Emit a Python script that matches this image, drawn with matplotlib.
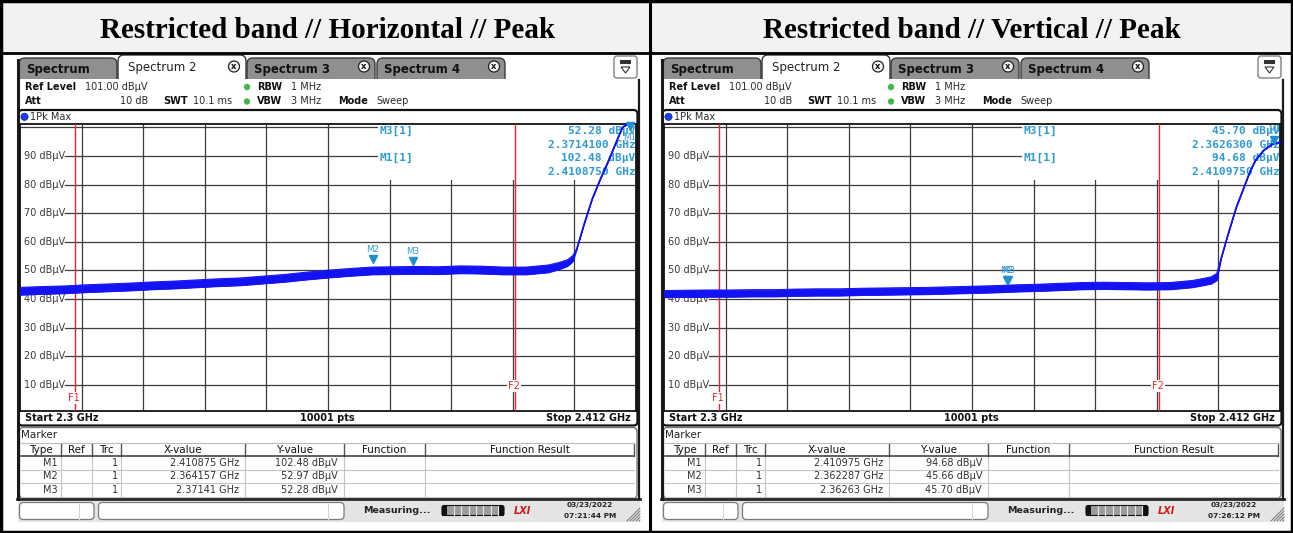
import matplotlib
matplotlib.use("Agg")
import matplotlib.pyplot as plt
from matplotlib.patches import Rectangle, FancyBboxPatch, Circle, Polygon
import numpy as np

plt.rcParams['font.family'] = ['DejaVu Sans']

# ---------------- data ----------------
titles = ["Restricted band // Horizontal // Peak", "Restricted band // Vertical // Peak"]
f_start = 2.300
f_stop = 2.412
ref_level = 101.0
bottom_level = 1.0
grid_levels = [100, 90, 80, 70, 60, 50, 40, 30, 20, 10]
level_labels = ["90 dBµV", "80 dBµV", "70 dBµV", "60 dBµV", "50 dBµV",
                "40 dBµV", "30 dBµV", "20 dBµV", "10 dBµV"]
label_levels = [90, 80, 70, 60, 50, 40, 30, 20, 10]
limit_freqs = [2.310, 2.390]
limit_names = ["F1", "F2"]
limit_label_levels = [5.6, 9.6]

# Horizontal trace (envelope of the max-hold noise band, dBµV)
h_freq = [2.300, 2.304, 2.308, 2.312, 2.316, 2.320, 2.324, 2.328, 2.332, 2.336,
          2.340, 2.344, 2.348, 2.352, 2.356, 2.360, 2.364, 2.368, 2.372, 2.376,
          2.380, 2.384, 2.388, 2.392, 2.396, 2.398, 2.3995, 2.4005,
          2.4012, 2.4025, 2.4040, 2.4055, 2.4070, 2.4085, 2.4095, 2.4105, 2.4120]
h_lo = [41.5, 41.8, 42.0, 42.4, 42.7, 43.0, 43.4, 43.7, 44.1, 44.5,
        44.8, 45.4, 46.0, 46.8, 47.5, 48.1, 48.6, 48.7, 48.8, 48.7,
        49.0, 48.9, 48.6, 48.6, 49.3, 50.4, 51.5, 53.2,
        57.4, 65.9, 74.9, 81.9, 88.4, 95.4, 99.9, 101.2, 101.9]
h_hi = [44.1, 44.4, 44.6, 45.0, 45.3, 45.6, 46.0, 46.3, 46.7, 47.1,
        47.4, 48.0, 48.6, 49.4, 50.1, 50.7, 51.2, 51.3, 51.4, 51.3,
        51.6, 51.5, 51.2, 51.2, 51.9, 52.8, 53.7, 55.2,
        57.6, 66.1, 75.1, 82.1, 88.6, 95.6, 100.1, 101.4, 102.1]

# Vertical trace
v_freq = [2.300, 2.304, 2.308, 2.312, 2.316, 2.320, 2.324, 2.328, 2.332, 2.336,
          2.340, 2.344, 2.348, 2.352, 2.356, 2.360, 2.364, 2.368, 2.372, 2.376,
          2.380, 2.384, 2.388, 2.392, 2.396, 2.398, 2.3995, 2.4005,
          2.4013, 2.4025, 2.4040, 2.4055, 2.4065, 2.4075, 2.4090, 2.4105, 2.4120]
v_lo = [40.6, 40.7, 40.8, 40.8, 40.9, 40.9, 41.1, 41.2, 41.2, 41.4,
        41.5, 41.6, 41.7, 41.9, 42.1, 42.3, 42.6, 42.8, 43.1, 43.4,
        43.5, 43.4, 43.3, 43.4, 44.1, 44.8, 45.4, 46.6,
        54.4, 62.4, 71.9, 79.4, 84.4, 88.4, 91.9, 94.0, 94.8]
v_hi = [43.0, 43.1, 43.2, 43.2, 43.3, 43.3, 43.5, 43.6, 43.6, 43.8,
        43.9, 44.0, 44.1, 44.3, 44.5, 44.7, 45.0, 45.2, 45.5, 45.8,
        45.9, 45.8, 45.7, 45.8, 46.5, 47.2, 47.8, 49.0,
        54.6, 62.6, 72.1, 79.6, 84.6, 88.6, 92.1, 94.2, 95.0]

marker_names = ["M1", "M2", "M3"]
h_marker_x = [2.410875, 2.364157, 2.37141]
h_marker_y = [102.48, 52.97, 52.28]
h_marker_xtxt = ["2.410875 GHz", "2.364157 GHz", "2.37141 GHz"]
h_marker_ytxt = ["102.48 dBµV", "52.97 dBµV", "52.28 dBµV"]
h_info = [("M3[1]", "52.28 dBµV", "2.3714100 GHz"), ("M1[1]", "102.48 dBµV", "2.4108750 GHz")]
h_stamp = ("03/23/2022", "07:21:44 PM")

v_marker_x = [2.410975, 2.362287, 2.36263]
v_marker_y = [94.68, 45.66, 45.70]
v_marker_xtxt = ["2.410975 GHz", "2.362287 GHz", "2.36263 GHz"]
v_marker_ytxt = ["94.68 dBµV", "45.66 dBµV", "45.70 dBµV"]
v_info = [("M3[1]", "45.70 dBµV", "2.3626300 GHz"), ("M1[1]", "94.68 dBµV", "2.4109750 GHz")]
v_stamp = ("03/23/2022", "07:26:12 PM")

tab_names = ["Spectrum", "Spectrum 2", "Spectrum 3", "Spectrum 4"]
table_headers = ["Type", "Ref", "Trc", "X-value", "Y-value", "Function", "Function Result"]
trace_no = "1"

# ---------------- figure ----------------
W, H = 1293, 533
fig = plt.figure(figsize=(W / 100, H / 100), dpi=100)
bg = fig.add_axes([0, 0, 1, 1])
bg.set_xlim(0, W)
bg.set_ylim(H, 0)
bg.axis('off')

TXT = '#2a2a2a'
MK = '#2f9bd3'
TRACE = '#1212f2'
RED = '#e3262b'


def rbox(x0, y0, x1, y1, fc, ec, lw=1.0, r=3, z=1):
    bg.add_patch(FancyBboxPatch((x0, y0), x1 - x0, y1 - y0,
                                boxstyle=f"round,pad=0,rounding_size={r}",
                                fc=fc, ec=ec, lw=lw, zorder=z))


def t(x, y, s, size=7, weight='normal', color=TXT, ha='left', z=5, **kw):
    bg.text(x, y, s, fontsize=size, fontweight=weight, color=color, ha=ha,
            va='center', zorder=z, **kw)


# title row
bg.add_patch(Rectangle((0, 0), W, 53, fc='#f2f2f2', ec='none', zorder=0))


def draw_panel(ox, title, freq, lo, hi, mx, my, mxt, myt, info, stamp):
    t(ox + 328, 30, title, size=21, weight='bold', color='black', ha='center',
      fontfamily='Liberation Serif')

    # tabs
    tab_x = [(18, 118), (118, 246), (246, 376), (376, 506)]
    for i, (a, b) in enumerate(tab_x):
        if i == 1:
            rbox(ox + a, 55, ox + b, 84, fc='white', ec='#333333', lw=1, r=6, z=2)
            t(ox + 128, 68, tab_names[i], size=8.5, color='#222222', z=6)
        else:
            rbox(ox + a + 1, 58, ox + b - 1, 84, fc='#8f8f8f', ec='#3a3a3a', lw=1, r=6, z=1)
            t(ox + a + 8, 69, tab_names[i], size=8.5, weight='bold', color='#111111', z=6)
        if i > 0:
            cx = ox + b - 12
            bg.add_patch(Circle((cx, 66.5), 5.5, fc='#f4f4f4', ec='#222222', lw=0.9, zorder=6))
            t(cx, 66.5, 'x', size=6, weight='bold', color='#111111', ha='center', z=7)
    # menu button
    rbox(ox + 614, 56, ox + 637, 78, fc='white', ec='#808080', lw=1, r=3, z=2)
    bg.add_patch(Rectangle((ox + 620, 60), 11, 4, fc='#333333', ec='none', zorder=3))
    bg.add_patch(Polygon([(ox + 621, 67), (ox + 630, 67), (ox + 625.5, 73)],
                         closed=True, fc='none', ec='#333333', lw=0.8, zorder=3))

    # header area
    bg.add_patch(Rectangle((ox + 18, 79), 620, 31, fc='white', ec='none', zorder=3))
    t(ox + 25, 87, "Ref Level", weight='bold', color='#111111')
    t(ox + 85, 87, "101.00 dBµV")
    t(ox + 25, 101.5, "Att", weight='bold', color='#111111')
    t(ox + 148, 101.5, "10 dB", ha='right')
    t(ox + 163, 101.5, "SWT", weight='bold', color='#111111')
    t(ox + 193, 101.5, "10.1 ms")
    for yy in (87, 101.5):
        bg.add_patch(Circle((ox + 247, yy), 3.2, fc='#45b649', ec='none', zorder=6))
    t(ox + 257, 87, "RBW", weight='bold', color='#111111')
    t(ox + 291, 87, "1 MHz")
    t(ox + 257, 101.5, "VBW", weight='bold', color='#111111')
    t(ox + 291, 101.5, "3 MHz")
    t(ox + 338, 101.5, "Mode", weight='bold', color='#111111')
    t(ox + 376, 101.5, "Sweep")

    # plot frame
    rbox(ox + 18.5, 110, ox + 637.5, 425.5, fc='white', ec='#111111', lw=1.6, r=4, z=4)
    bg.add_patch(Circle((ox + 24.5, 116.8), 3.6, fc='#1a3de8', ec='#0a1f99', lw=0.5, zorder=6))
    t(ox + 29.5, 117, "1Pk Max", size=7)
    t(ox + 25, 418, f"Start {f_start:.1f} GHz", weight='bold', color='#111111')
    t(ox + 327, 418, "10001 pts", weight='bold', color='#111111', ha='center')
    t(ox + 631, 418, f"Stop {f_stop:.3f} GHz", weight='bold', color='#111111', ha='right')

    # side frame of screenshot
    bg.plot([ox + 17.5, ox + 17.5], [60, 499], color='#1a1a1a', lw=2.2, zorder=7)
    bg.plot([ox + 638.5, ox + 638.5], [80, 499], color='#1a1a1a', lw=1.6, zorder=7)

    # marker table
    rbox(ox + 19.5, 427.5, ox + 637, 498, fc='white', ec='#777777', lw=1, r=4, z=4)
    t(ox + 21, 434.5, "Marker", size=7.5, color='#222222')
    cols = [21, 61, 92, 121, 245, 344, 425, 634]
    rows = [443, 456, 469.5, 483, 496.5]
    for k in range(1, 4):
        bg.plot([ox + 21, ox + 634], [rows[k + 1], rows[k + 1]], color='#c4c4c4', lw=0.8, zorder=5)
    for c in cols[1:-1]:
        bg.plot([ox + c, ox + c], [rows[1], rows[-1]], color='#c4c4c4', lw=0.8, zorder=5)
        bg.plot([ox + c, ox + c], [rows[0] + 1, rows[1]], color='#555555', lw=1.0, zorder=5)
    bg.plot([ox + 634, ox + 634], [rows[0] + 1, rows[1]], color='#555555', lw=1.0, zorder=5)
    bg.plot([ox + 21, ox + 634], [rows[1], rows[1]], color='#444444', lw=1.2, zorder=5)
    bg.plot([ox + 21, ox + 634], [rows[0], rows[0]], color='#bbbbbb', lw=0.8, zorder=5)
    for j, hd in enumerate(table_headers):
        t(ox + (cols[j] + cols[j + 1]) / 2, 450, hd, size=7.5, color='#111111', ha='center')
    for r in range(3):
        yy = (rows[r + 1] + rows[r + 2]) / 2
        t(ox + 58, yy, marker_names[r], size=7, color='#333333', ha='right')
        t(ox + 118, yy, trace_no, size=7, color='#333333', ha='right')
        t(ox + 239, yy, mxt[r], size=7, color='#333333', ha='right')
        t(ox + 338, yy, myt[r], size=7, color='#333333', ha='right')

    # status bar
    bg.add_patch(Rectangle((ox + 18, 498.5), 622, 23, fc='#e4e4e4', ec='none', zorder=3))
    bg.plot([ox + 17, ox + 640], [499, 499], color='#2a2a2a', lw=2, zorder=6)
    rbox(ox + 19.5, 502.5, ox + 94, 519.5, fc='white', ec='#7a7a7a', lw=0.9, r=4, z=4)
    rbox(ox + 98.5, 502.5, ox + 344, 519.5, fc='white', ec='#7a7a7a', lw=0.9, r=4, z=4)
    bg.plot([ox + 79, ox + 79], [503, 519], color='#d5d5d5', lw=0.8, zorder=5)
    bg.plot([ox + 328, ox + 328], [503, 519], color='#d5d5d5', lw=0.8, zorder=5)
    t(ox + 363, 510.5, "Measuring...", size=6.8, weight='bold', color='#222222')
    rbox(ox + 442, 505.5, ox + 504, 515.5, fc='#9c9c9c', ec='#111111', lw=0.8, r=2, z=4)
    bg.add_patch(Rectangle((ox + 442, 505.5), 5, 10, fc='#111111', ec='none', zorder=5))
    bg.add_patch(Rectangle((ox + 499, 505.5), 5, 10, fc='#111111', ec='none', zorder=5))
    for sx in range(7):
        bg.plot([ox + 454 + sx * 7.3] * 2, [506, 515], color='#e8e8e8', lw=0.8, zorder=5)
    t(ox + 522, 510.5, "LXI", size=7, weight='bold', color='#d21a1a', ha='center', style='italic')
    t(ox + 590, 505.5, stamp[0], size=5.3, weight='bold', color='#222222', ha='center')
    t(ox + 590, 515.5, stamp[1], size=5.3, weight='bold', color='#222222', ha='center')
    for k in range(5):
        bg.plot([ox + 627 + k * 3, ox + 640], [521, 508 + k * 3], color='#777777', lw=0.7, zorder=5)

    # ---------- data axes ----------
    x0p, x1p, y0p, y1p = ox + 20, ox + 636, 124.4, 410.8
    ax = fig.add_axes([x0p / W, 1 - y1p / H, (x1p - x0p) / W, (y1p - y0p) / H])
    ax.set_zorder(10)
    ax.set_xlim(f_start, f_stop)
    ax.set_ylim(bottom_level, ref_level)
    ax.set_xticks([])
    ax.set_yticks([])
    for s in ax.spines.values():
        s.set_color('#111111')
        s.set_linewidth(1.3)

    def fr(px, py):
        return ((px - 20) / 616.0, (410.8 - py) / 286.4)

    span = f_stop - f_start
    line_start = f_start + (65 - 20) / 616.0 * span
    for lv in grid_levels:
        x_from = line_start if lv in label_levels else f_start
        ax.plot([x_from, f_stop], [lv, lv], color='#3c3c3c', lw=0.9, zorder=1)
    for xv in np.linspace(f_start, f_stop, 11)[1:-1]:
        ax.axvline(xv, color='#3c3c3c', lw=0.9, zorder=1)
    for lv, lab in zip(label_levels, level_labels):
        ax.text(f_start + (23.5 - 20) / 616.0 * span, lv, lab, fontsize=7, color='#3a3a3a',
                va='center', ha='left', zorder=3)

    # marker info box
    bx0 = f_start + (378 - 20) / 616.0 * span
    ax.add_patch(Rectangle((bx0, 81.6), f_stop - bx0, 30, fc='white', ec='none', zorder=2))
    for i, (nm, lvtxt, frtxt) in enumerate(info):
        yy = 131 + i * 27
        ax.text(*fr(379, yy), nm, transform=ax.transAxes, fontsize=8, fontweight='bold',
                family='DejaVu Sans Mono', color=MK, va='center', ha='left', zorder=3)
        ax.text(*fr(635.5, yy), lvtxt, transform=ax.transAxes, fontsize=8, fontweight='bold',
                family='DejaVu Sans Mono', color=MK, va='center', ha='right', zorder=3)
        ax.text(*fr(635.5, yy + 13.8), frtxt, transform=ax.transAxes, fontsize=8, fontweight='bold',
                family='DejaVu Sans Mono', color=MK, va='center', ha='right', zorder=3)

    # limit lines F1/F2
    for fv, nm, ll in zip(limit_freqs, limit_names, limit_label_levels):
        ax.axvline(fv, color=RED, lw=1.0, zorder=3.5)
        ax.text(fv - 0.0002, ll, nm, fontsize=7, color=RED, ha='center', va='center', zorder=3.6,
                bbox=dict(boxstyle='square,pad=0.1', fc='white', ec='none'))

    # trace
    ax.fill_between(freq, lo, hi, color=TRACE, lw=0.6, zorder=4)
    ax.plot(freq, lo, color=TRACE, lw=0.7, zorder=4)
    ax.plot(freq, hi, color=TRACE, lw=0.7, zorder=4)

    # markers
    for nm, xv, yv in zip(marker_names, mx, my):
        if yv > ref_level - 1:
            tri, lab = ref_level - 0.7, ref_level - 4.6
        else:
            tri, lab = yv + 0.9, yv + 4.4
        ax.plot([xv], [tri], marker='v', ms=6, color='#1f8fd0', zorder=6, clip_on=False)
        ax.text(xv, lab, nm, fontsize=6.3, color=MK, ha='center', va='center', zorder=6)


draw_panel(0, titles[0], h_freq, h_lo, h_hi, h_marker_x, h_marker_y,
           h_marker_xtxt, h_marker_ytxt, h_info, h_stamp)
draw_panel(644, titles[1], v_freq, v_lo, v_hi, v_marker_x, v_marker_y,
           v_marker_xtxt, v_marker_ytxt, v_info, v_stamp)

# outer borders
bg.plot([0, W], [53, 53], color='black', lw=2, zorder=20)
bg.plot([650, 650], [0, H], color='black', lw=2.2, zorder=20)
bg.add_patch(Rectangle((1, 1), W - 2, H - 2, fc='none', ec='black', lw=2.5, zorder=20))

fig.savefig("out.png", dpi=100)
